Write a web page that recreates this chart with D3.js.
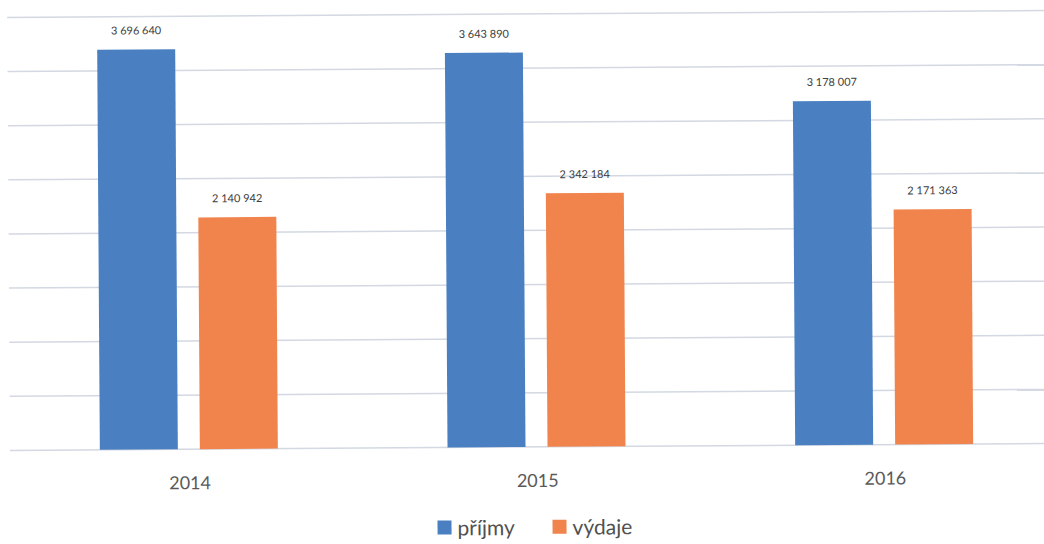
<!DOCTYPE html>
<html><head><meta charset="utf-8">
<script src="https://cdn.jsdelivr.net/npm/d3@7"></script>
<style>body{margin:0;background:#fff;}svg{display:block;}</style>
</head><body>
<svg id="c" width="1044" height="544"></svg>
<script>
const categories = ["2014", "2015", "2016"];
const series = ["příjmy", "výdaje"];
const prijmy = [3696640, 3643890, 3178007];
const vydaje = [2140942, 2342184, 2171363];
const yTicks = [0, 500000, 1000000, 1500000, 2000000, 2500000, 3000000, 3500000, 4000000];
const colors = ["#4a80c2", "#f0844c"];

const fmt = v => d3.format(",")(v).replace(/,/g, " ");
const svg = d3.select("#c");
const g = svg.append("g").attr("transform", "rotate(-0.38 522 446)");

const x = d3.scaleBand().domain(categories).range([15, 1058]);
const y = d3.scaleLinear().domain([0, 4000000]).range([447, 14]);

g.selectAll("line.grid").data(yTicks).join("line")
  .attr("x1", 10).attr("x2", 1070)
  .attr("y1", d => y(d)).attr("y2", d => y(d))
  .attr("stroke", "#d3d8e2").attr("stroke-width", 1.5);

const data = categories.map((c, i) => ({c, vals: [prijmy[i], vydaje[i]]}));
const inner = d3.scaleBand().domain(series).range([-89, 89]).paddingInner(0.22);

data.forEach(d => {
  d.vals.forEach((v, j) => {
    const bx = x(d.c) + x.bandwidth() / 2 + inner(series[j]);
    g.append("rect").attr("x", bx).attr("width", inner.bandwidth())
      .attr("y", y(v)).attr("height", y(0) - y(v)).attr("fill", colors[j]);
    g.append("text").attr("x", bx + inner.bandwidth() / 2).attr("y", y(v) - 15)
      .attr("text-anchor", "middle").attr("font-family", "Lato, sans-serif")
      .attr("font-size", 11).attr("fill", "#404040").text(fmt(v));
  });
});

g.selectAll("text.cat").data(categories).join("text")
  .attr("x", d => x(d) + x.bandwidth() / 2 + 1).attr("y", y(0) + 40)
  .attr("text-anchor", "middle").attr("font-family", "Lato, sans-serif")
  .attr("font-size", 18).attr("fill", "#5a5a5a").text(d => d);

const leg = g.append("g").attr("transform", "translate(437,535)");
const legX = [0, 115];
series.forEach((s, j) => {
  leg.append("rect").attr("x", legX[j]).attr("y", -15).attr("width", 14).attr("height", 14).attr("fill", colors[j]);
  leg.append("text").attr("x", legX[j] + 20).attr("y", 0)
    .attr("font-family", "Lato, sans-serif").attr("font-size", 21).attr("fill", "#505050").text(s);
});
</script>
</body></html>
